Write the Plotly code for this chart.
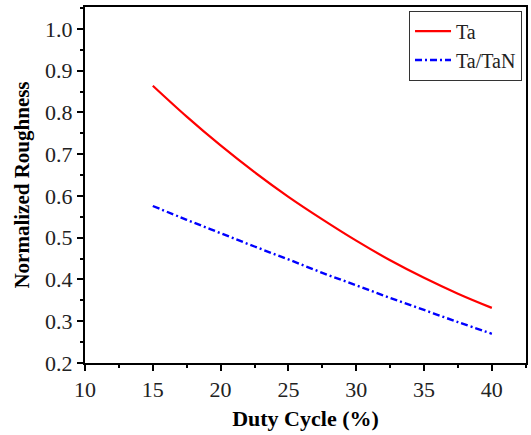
import plotly.graph_objects as go

duty_cycle = [15, 17.5, 20, 22.5, 25, 27.5, 30, 32.5, 35, 37.5, 40]
ta_roughness = [0.864, 0.790, 0.721, 0.657, 0.598, 0.544, 0.493, 0.446, 0.404, 0.366, 0.332]
ta_tan_roughness = [0.576, 0.543, 0.511, 0.479, 0.448, 0.416, 0.386, 0.356, 0.327, 0.298, 0.270]

x_ticks = [10, 15, 20, 25, 30, 35, 40]
y_ticks = [0.2, 0.3, 0.4, 0.5, 0.6, 0.7, 0.8, 0.9, 1.0]

FONT = "Liberation Serif, Times New Roman, serif"

fig = go.Figure()
fig.add_trace(go.Scatter(x=duty_cycle, y=ta_roughness, mode="lines", name="Ta",
                         line=dict(color="#ff0000", width=2.2, shape="spline")))
fig.add_trace(go.Scatter(x=duty_cycle, y=ta_tan_roughness, mode="lines", name="Ta/TaN",
                         line=dict(color="#0000ff", width=2.4, dash="7px,3px,2px,3px", shape="spline")))

axis_common = dict(
    showline=True, linecolor="black", linewidth=2, mirror=True,
    ticks="outside", ticklen=6, tickwidth=1.5, tickcolor="black",
    showgrid=False, zeroline=False, automargin=False,
    tickfont=dict(family=FONT, size=22, color="#222"),
)

fig.update_xaxes(range=[10, 42.52], tickvals=x_ticks,
                 minor=dict(ticks="outside", ticklen=3, tickwidth=1.5, tickcolor="black", dtick=2.5, tick0=10),
                 title=dict(text="<b>Duty Cycle (%)</b>", font=dict(family=FONT, size=22, color="black"), standoff=9),
                 **axis_common)
fig.update_yaxes(range=[0.2, 1.0526], tickvals=y_ticks, tickformat=".1f",
                 minor=dict(ticks="outside", ticklen=3, tickwidth=1.5, tickcolor="black", dtick=0.05, tick0=0.2),
                 title=dict(text="<b>Normalized Roughness</b>", font=dict(family=FONT, size=21, color="black"), standoff=10),
                 **axis_common)

fig.update_layout(
    width=531, height=435,
    margin=dict(l=85, r=5, t=7, b=72),
    plot_bgcolor="white", paper_bgcolor="white",
    showlegend=True,
    legend=dict(x=0.991, y=0.99, xanchor="right", yanchor="top",
                bordercolor="#333", borderwidth=1, bgcolor="white",
                font=dict(family=FONT, size=20, color="#222"),
                tracegroupgap=0, itemwidth=36),
)

fig.write_html("out.html", config={"displayModeBar": False},
               post_script="document.body.style.margin='0';document.body.style.overflow='hidden';")
